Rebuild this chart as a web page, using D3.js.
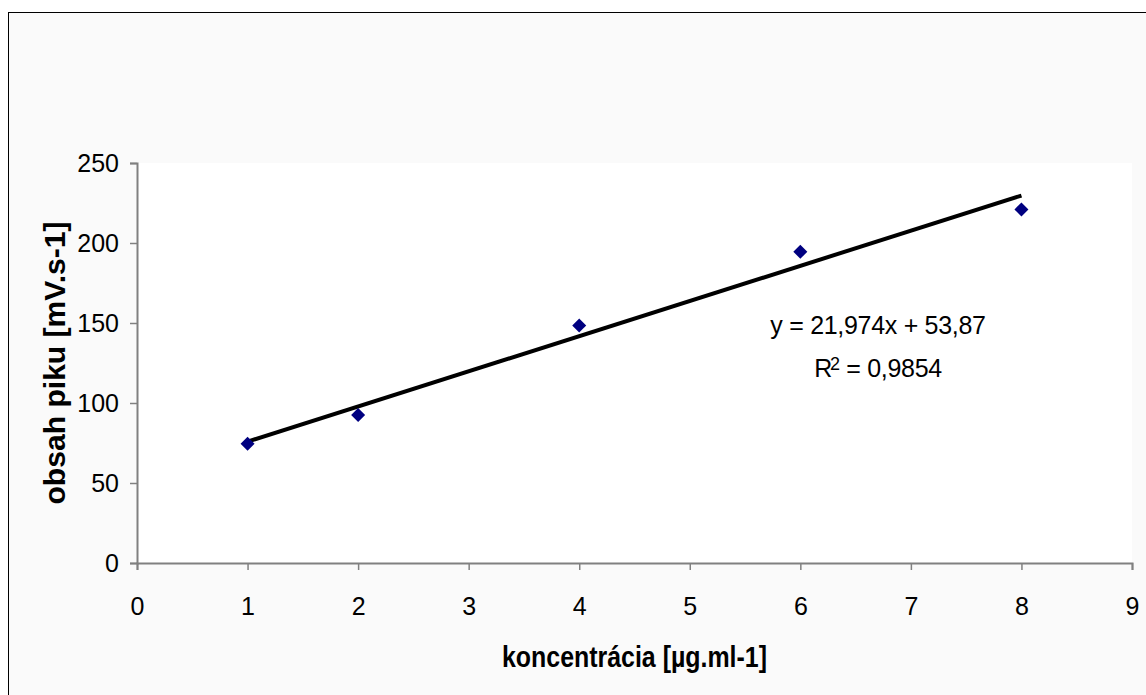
<!DOCTYPE html>
<html>
<head>
<meta charset="utf-8">
<script src="https://cdn.jsdelivr.net/npm/d3@7/dist/d3.min.js"></script>
<style>
    html, body { margin: 0; padding: 0; background: #ffffff; }
    svg { display: block; font-family: Arial, "Liberation Sans", sans-serif; }
</style>
</head>
<body>
<svg id="chart"></svg>
<script>
// data
var concentrations = [1, 2, 4, 6, 8];
var peakAreas = [74.5, 92.5, 148.5, 194.5, 221];
var xTicks = [0, 1, 2, 3, 4, 5, 6, 7, 8, 9];
var yTicks = [0, 50, 100, 150, 200, 250];
var trendCoef = [21.974, 53.87];      // slope, intercept
var trendRange = [1, 8];
var equationLines = ["y = 21,974x + 53,87", "0,9854"];
var xTitle = "koncentrácia [µg.ml-1]";
var yTitle = "obsah piku [mV.s-1]";

function drawChart() {
    var width = 1146,
        height = 695,
        plot = { left: 137, top: 163, right: 1132, bottom: 563 },
        axisColor = "#808080";

    var svg = d3.select("#chart").attr("width", width).attr("height", height);

    // chart area with its border
    svg.append("rect")
        .attr("x", 8.5).attr("y", 12.5)
        .attr("width", width).attr("height", height)
        .attr("fill", "#fafafa")
        .attr("stroke", "#000").attr("stroke-width", 1);

    svg.append("rect")
        .attr("x", plot.left).attr("y", plot.top)
        .attr("width", plot.right - plot.left).attr("height", plot.bottom - plot.top)
        .attr("fill", "#fff");

    var x = d3.scaleLinear().domain([0, 9]).range([plot.left, plot.right]);
    var y = d3.scaleLinear().domain([0, 250]).range([plot.bottom, plot.top]);

    var xAxis = svg.append("g")
        .attr("transform", "translate(0," + plot.bottom + ")")
        .call(d3.axisBottom(x).tickValues(xTicks).tickSizeOuter(0).tickSize(7).tickPadding(27));

    var yAxis = svg.append("g")
        .attr("transform", "translate(" + plot.left + ",0)")
        .call(d3.axisLeft(y).tickValues(yTicks).tickSizeOuter(0).tickSize(7).tickPadding(11));

    [xAxis, yAxis].forEach(function (axis) {
        axis.select(".domain").attr("stroke", axisColor).attr("stroke-width", 2);
        axis.selectAll(".tick line").attr("stroke", axisColor).attr("stroke-width", 1.5);
        axis.selectAll(".tick text")
            .attr("fill", "#000")
            .style("font-size", "25px")
            .style("font-family", "Arial, 'Liberation Sans', sans-serif");
    });

    // trend line
    var line = d3.line()
        .x(function (d) { return x(d); })
        .y(function (d) { return y(trendCoef[0] * d + trendCoef[1]); });

    svg.append("path")
        .datum(trendRange)
        .attr("d", line)
        .attr("fill", "none")
        .attr("stroke", "#000")
        .attr("stroke-width", 4);

    // markers
    var diamond = d3.symbol().type(d3.symbolDiamond2).size(125);
    svg.selectAll(".point")
        .data(concentrations)
        .enter().append("path")
        .attr("class", "point")
        .attr("d", diamond)
        .attr("transform", function (d, i) { return "translate(" + x(d) + "," + y(peakAreas[i]) + ")"; })
        .attr("fill", "#000080");

    // equation label
    var eqX = 878;
    svg.append("text")
        .attr("x", eqX).attr("y", 334)
        .attr("text-anchor", "middle")
        .style("font-size", "25px")
        .style("letter-spacing", "-0.3px")
        .text(equationLines[0]);

    var r2 = svg.append("text")
        .attr("x", eqX).attr("y", 377)
        .attr("text-anchor", "middle")
        .style("font-size", "25px")
        .style("letter-spacing", "-0.3px");
    r2.append("tspan").text("R");
    r2.append("tspan").attr("dx", -2).attr("dy", -7).style("font-size", "18px").text("2");
    r2.append("tspan").attr("dy", 7).text(" = " + equationLines[1]);

    // axis titles
    svg.append("text")
        .attr("x", (plot.left + plot.right) / 2).attr("y", 667)
        .attr("text-anchor", "middle")
        .attr("textLength", 265)
        .attr("lengthAdjust", "spacingAndGlyphs")
        .style("font-size", "29px").style("font-weight", "bold")
        .text(xTitle);

    svg.append("text")
        .attr("transform", "translate(65," + ((plot.top + plot.bottom) / 2) + ") rotate(-90)")
        .attr("text-anchor", "middle")
        .attr("textLength", 283)
        .attr("lengthAdjust", "spacingAndGlyphs")
        .style("font-size", "29px").style("font-weight", "bold")
        .text(yTitle);
}

drawChart();
</script>
</body>
</html>
